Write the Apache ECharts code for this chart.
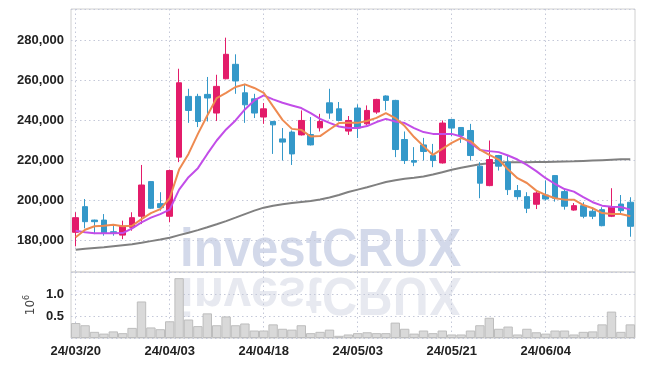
<!DOCTYPE html>
<html>
<head>
<meta charset="utf-8">
<script src="https://cdn.jsdelivr.net/npm/echarts@6/dist/echarts.min.js"></script>
<style>
html,body{margin:0;padding:0;background:#fff;}
#chart{width:645px;height:366px;}
</style>
</head>
<body>
<div id="chart"></div>
<script>
const dates = ["24/03/20","24/03/21","24/03/22","24/03/25","24/03/26","24/03/27","24/03/28","24/03/29","24/04/01","24/04/02",
"24/04/03","24/04/04","24/04/05","24/04/08","24/04/09","24/04/11","24/04/12","24/04/15","24/04/16","24/04/17",
"24/04/18","24/04/19","24/04/22","24/04/23","24/04/24","24/04/25","24/04/26","24/04/29","24/04/30","24/05/02",
"24/05/03","24/05/07","24/05/08","24/05/09","24/05/10","24/05/13","24/05/14","24/05/16","24/05/17","24/05/20",
"24/05/21","24/05/22","24/05/23","24/05/24","24/05/27","24/05/28","24/05/29","24/05/30","24/05/31","24/06/03",
"24/06/04","24/06/05","24/06/07","24/06/10","24/06/11","24/06/12","24/06/13","24/06/14","24/06/17","24/06/18"];

const opens = [184200,197000,190300,190300,184500,182800,186700,192200,209500,198500,
192200,221700,252000,252000,253000,243700,260800,268000,253800,250800,
241700,239500,230800,234200,232800,233000,236300,248800,245800,234700,
246200,238300,244200,252200,250000,230500,220000,227800,222500,218800,
240500,236500,235000,217200,207500,222500,219200,205000,202000,198200,
202800,212500,204500,195300,197500,194700,195500,192200,198300,199200];

const closes = [191500,189500,189500,183800,183700,187200,191500,207800,196200,196500,
215000,258800,245000,239500,251200,257000,273000,259700,247800,243700,
245800,237800,229200,223300,240000,227800,239500,243700,240000,240000,
236200,245000,250500,250000,225500,220000,219200,224500,220000,238700,
236200,232500,222500,208700,220500,217200,205500,202000,196200,203800,
200800,201200,197200,197500,192200,192200,187500,197000,195000,187200];

const lows = [177200,186200,183300,182500,182500,180800,185000,188300,195800,195000,
189200,219200,238800,236700,239500,239700,260500,253300,238800,241200,
238300,223300,220000,217800,232500,227500,234500,240800,239500,232800,
231200,237800,243300,245000,221700,218300,217200,220000,216700,218500,
232200,228800,220000,201200,207200,215000,202800,200500,193800,195800,
200000,199500,195500,195000,191200,190800,187200,191800,193300,182000];

const highs = [194200,200800,190500,193300,187500,190000,194200,217800,209800,204200,
215500,265800,255800,253300,261700,262800,281300,273000,258300,253300,
248700,239500,236200,235000,245000,241700,243300,255800,249200,242200,
248000,247500,250800,252500,250300,234500,226700,231300,228300,240000,
240800,236700,238300,219200,230000,222800,222800,207800,204200,205000,
210000,212700,206200,198800,199200,196700,196700,206200,202800,201700];

const ma5 = [181700,185500,187200,187500,188000,187200,187500,190800,193800,195800,
201200,215500,223300,233300,242500,251200,253800,256700,258000,256200,
253800,247000,240300,235800,235300,232000,232200,235500,238700,238800,
238800,239700,241300,243700,241200,237200,231700,227200,222800,225800,
228800,231200,229700,225500,222800,220500,215500,211200,208800,205000,
202800,201200,200500,200500,197800,196200,193800,193300,193300,192200];

const ma10 = [185000,184200,183700,183700,183700,183800,186200,189200,191500,193300,
195500,205500,211700,216200,223300,230000,235500,240000,245500,250000,
252500,250500,248800,247500,246200,243700,240800,238800,237000,236200,
236200,237200,239200,240800,239500,238700,236200,234200,233300,233300,
233300,232000,228800,225300,224700,224200,222500,220500,217800,214700,
211200,208300,205800,204500,201700,199200,197500,197000,196800,195500];

const maLong = [175500,176000,176400,176800,177300,177800,178300,179000,179800,180600,
181500,182800,184000,185300,186700,188200,189800,191500,193300,195000,
196500,197500,198200,198800,199300,199800,200600,201600,202800,204300,
205500,206700,208000,209300,210200,210900,211400,212000,213000,214200,
215400,216400,217300,218100,218700,219000,219200,219200,219200,219300,
219300,219400,219500,219600,219800,220000,220200,220400,220600,220700];

const volumes = [0.34,0.29,0.14,0.10,0.15,0.11,0.23,0.83,0.24,0.20,
0.38,1.36,0.42,0.27,0.56,0.29,0.49,0.29,0.33,0.17,
0.17,0.31,0.21,0.19,0.29,0.11,0.14,0.19,0.05,0.08,
0.11,0.13,0.11,0.11,0.35,0.21,0.10,0.17,0.11,0.17,
0.08,0.08,0.17,0.29,0.46,0.21,0.26,0.08,0.21,0.13,
0.10,0.17,0.17,0.08,0.14,0.15,0.31,0.60,0.14,0.31];

const candleData = opens.map((o, i) => [o, closes[i], lows[i], highs[i]]);

const FONT = 'Liberation Sans';
const splitStyle = { type: [1.5, 3], color: '#c4c8d8', width: 1 };

const chart = echarts.init(document.getElementById('chart'), null, { renderer: 'canvas' });
chart.setOption({
  animation: false,
  backgroundColor: '#ffffff',
  graphic: [
    {
      type: 'text', z: -10, left: 180, top: 224,
      scaleX: 0.91,
      style: { text: 'investCRUX', font: 'bold 54px "Liberation Sans"', fill: '#d3d9ea' }
    },
    {
      type: 'text', z: -10, x: 180, y: 320, scaleX: 0.91, scaleY: -1,
      style: { text: 'investCRUX', font: 'bold 54px "Liberation Sans"', fill: '#e7e9f0', verticalAlign: 'top' }
    }
  ],
  grid: [
    { left: 71, right: 10, top: 9, height: 263, show: true, borderColor: '#d0d0d0', borderWidth: 1 },
    { left: 71, right: 10, top: 272, height: 66, show: true, borderColor: '#d0d0d0', borderWidth: 1 }
  ],
  xAxis: [
    {
      type: 'category', gridIndex: 0, data: dates, boundaryGap: true,
      axisLine: { show: false }, axisTick: { show: false }, axisLabel: { show: false },
      splitLine: { show: true, interval: 9, alignWithLabel: true, lineStyle: splitStyle }
    },
    {
      type: 'category', gridIndex: 1, data: dates, boundaryGap: true,
      axisLine: { show: false }, axisTick: { show: false },
      axisLabel: { show: true, interval: 9, fontFamily: FONT, fontWeight: 'bold', fontSize: 13, color: '#222', margin: 7 },
      splitLine: { show: true, interval: 9, alignWithLabel: true, lineStyle: splitStyle }
    }
  ],
  yAxis: [
    {
      type: 'value', gridIndex: 0, min: 164400, max: 295600, splitNumber: 6, scale: true,
      axisLine: { show: false }, axisTick: { show: false },
      axisLabel: { fontFamily: FONT, fontWeight: 'bold', fontSize: 13, color: '#222', margin: 7,
        showMinLabel: false, showMaxLabel: false,
        formatter: v => v.toString().replace(/\B(?=(\d{3})+(?!\d))/g, ',') },
      splitLine: { show: true, lineStyle: splitStyle }
    },
    {
      type: 'value', gridIndex: 1, min: 0, max: 1.5, interval: 0.5,
      axisLine: { show: false }, axisTick: { show: false },
      axisLabel: { fontFamily: FONT, fontWeight: 'bold', fontSize: 13, color: '#222', margin: 7,
        showMinLabel: false, showMaxLabel: false, formatter: v => v.toFixed(1) },
      splitLine: { show: true, lineStyle: splitStyle },
      name: '10{s|6}', nameLocation: 'middle', nameRotate: 90, nameGap: 33, nameMoveOverlap: false,
      nameTextStyle: { fontFamily: 'DejaVu Sans', fontSize: 12, color: '#444',
        rich: { s: { fontFamily: 'DejaVu Sans', fontSize: 8, color: '#444', padding: [0, 0, 7, 0] } } }
    }
  ],
  series: [
    {
      type: 'bar', xAxisIndex: 1, yAxisIndex: 1, data: volumes, barWidth: '100%',
      itemStyle: { color: '#d9d9d9', borderColor: '#bdbdbd', borderWidth: 1 }, z: 2
    },
    {
      type: 'line', xAxisIndex: 0, yAxisIndex: 0, data: maLong, symbol: 'none', smooth: false,
      lineStyle: { color: '#808080', width: 2 }, z: 3
    },
    {
      type: 'candlestick', xAxisIndex: 0, yAxisIndex: 0, data: candleData, barWidth: 6,
      itemStyle: { color: '#e31c6a', color0: '#3498c9', borderColor: '#e31c6a', borderColor0: '#3498c9', borderWidth: 1 },
      z: 4
    },
    {
      type: 'line', xAxisIndex: 0, yAxisIndex: 0, data: ma10, symbol: 'none',
      lineStyle: { color: '#c24de8', width: 2 }, z: 5
    },
    {
      type: 'line', xAxisIndex: 0, yAxisIndex: 0, data: ma5, symbol: 'none',
      lineStyle: { color: '#ee8a50', width: 2 }, z: 6
    }
  ]
});
</script>
</body>
</html>
